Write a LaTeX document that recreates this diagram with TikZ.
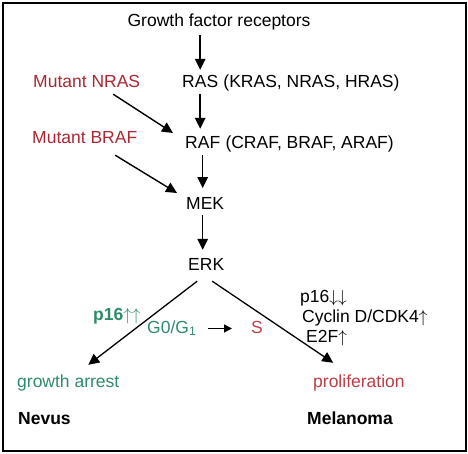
\documentclass[tikz,border=0pt]{standalone}
\usepackage{fontspec}
\setmainfont{Liberation Sans}
\usetikzlibrary{arrows.meta, positioning, calc}
\definecolor{mutred}{RGB}{170,40,50}
\definecolor{arrestgreen}{RGB}{45,140,105}
\definecolor{prolred}{RGB}{190,60,70}
\newcommand{\up}{\ensuremath{\uparrow}}
\newcommand{\down}{\ensuremath{\downarrow}}
\tikzset{
  lbl/.style={inner sep=0pt, text height=13pt, text depth=4pt, font=\fontsize{17.5}{21}\selectfont},
  boldlbl/.style={lbl, font=\fontsize{17.5}{21}\selectfont\bfseries},
  mutlbl/.style={lbl, text=mutred},
  greenlbl/.style={lbl, text=arrestgreen},
  arrow/.style={-{Triangle[length=11pt, width=10.5pt]}, line width=1.4pt},
  chain/.style={arrow, shorten <=2pt, shorten >=7pt},
  smallarrow/.style={-{Triangle[length=8pt, width=8pt]}, line width=1.4pt},
}

\begin{document}
\begin{tikzpicture}[x=1pt, y=-1pt]
  \useasboundingbox (0,0) rectangle (468,454);
  \draw[line width=1.5pt] (3,3) rectangle (466,451);

  % main cascade
  \node[lbl, anchor=base] (grf) at (219,26.5) {Growth factor receptors};
  \node[lbl, anchor=base west] (ras) at (182,87.7) {RAS};
  \node[lbl, right=4.9pt of ras] (rasfam) {(KRAS, NRAS, HRAS)};
  \node[lbl, anchor=base west] (raf) at (185,149) {RAF};
  \node[lbl, right=4.9pt of raf] (raffam) {(CRAF, BRAF, ARAF)};
  \node[lbl, anchor=base west] (mek) at (186,209.3) {MEK};
  \node[lbl, anchor=base west] (erk) at (188,270) {ERK};

  % mutations
  \node[mutlbl, anchor=base west] (nras) at (33,87.7) {Mutant NRAS};
  \node[mutlbl, anchor=base west] (braf) at (32,144) {Mutant BRAF};

  % outcomes
  \node[greenlbl, anchor=base west] (arrest) at (17,387) {growth arrest};
  \node[lbl, text=prolred, anchor=base west] (prolif) at (313,387) {proliferation};
  \node[boldlbl, text=arrestgreen, anchor=base west] (p16up) at (93,320) {p16\mdseries\up\up};
  \node[greenlbl, anchor=base west] (gphase) at (147,333) {G0/G\textsubscript{1}};
  \node[lbl, text=prolred, anchor=base west] (sphase) at (251,333) {S};
  \node[lbl, anchor=base west] (p16down) at (300,302.5) {p16\down\down};
  \node[lbl, anchor=base west] (cyclin) at (302,322) {Cyclin D/CDK4\up};
  \node[lbl, anchor=base west] (etwof) at (306,342.5) {E2F\up};
  \node[boldlbl, anchor=base west] (nevus) at (18,424) {Nevus};
  \node[boldlbl, anchor=base west] (melanoma) at (307,424) {Melanoma};

  \draw[arrow, shorten <=4.5pt, shorten >=4.7pt] (grf.south -| ras) -- (ras);
  \draw[chain] (ras.south) -- (ras.south |- raf.north);
  \draw[chain, shorten >=8pt] (raf.south) -- (raf.south |- mek.north);
  \draw[chain] (mek.south -| raf) -- (raf |- erk.north);
  \draw[arrow] ($(nras.south)+(26.5,2.3)$) -- ($(raf.west)+(-12,-11.5)$);
  \draw[arrow] ($(braf.south)+(30.5,7)$) -- ($(mek.west)+(-9,-11.8)$);
  \draw[arrow, line width=1.3pt] ($(erk.south)+(-9,7)$) -- ($(arrest.north)+(20,-9)$);
  \draw[arrow, line width=1.3pt] ($(erk.south)+(6,7)$) -- ($(prolif.north)+(-25.7,-11)$);
  \draw[smallarrow, shorten <=11pt, shorten >=19pt] (gphase.east) -- (sphase.west);
\end{tikzpicture}
\end{document}
